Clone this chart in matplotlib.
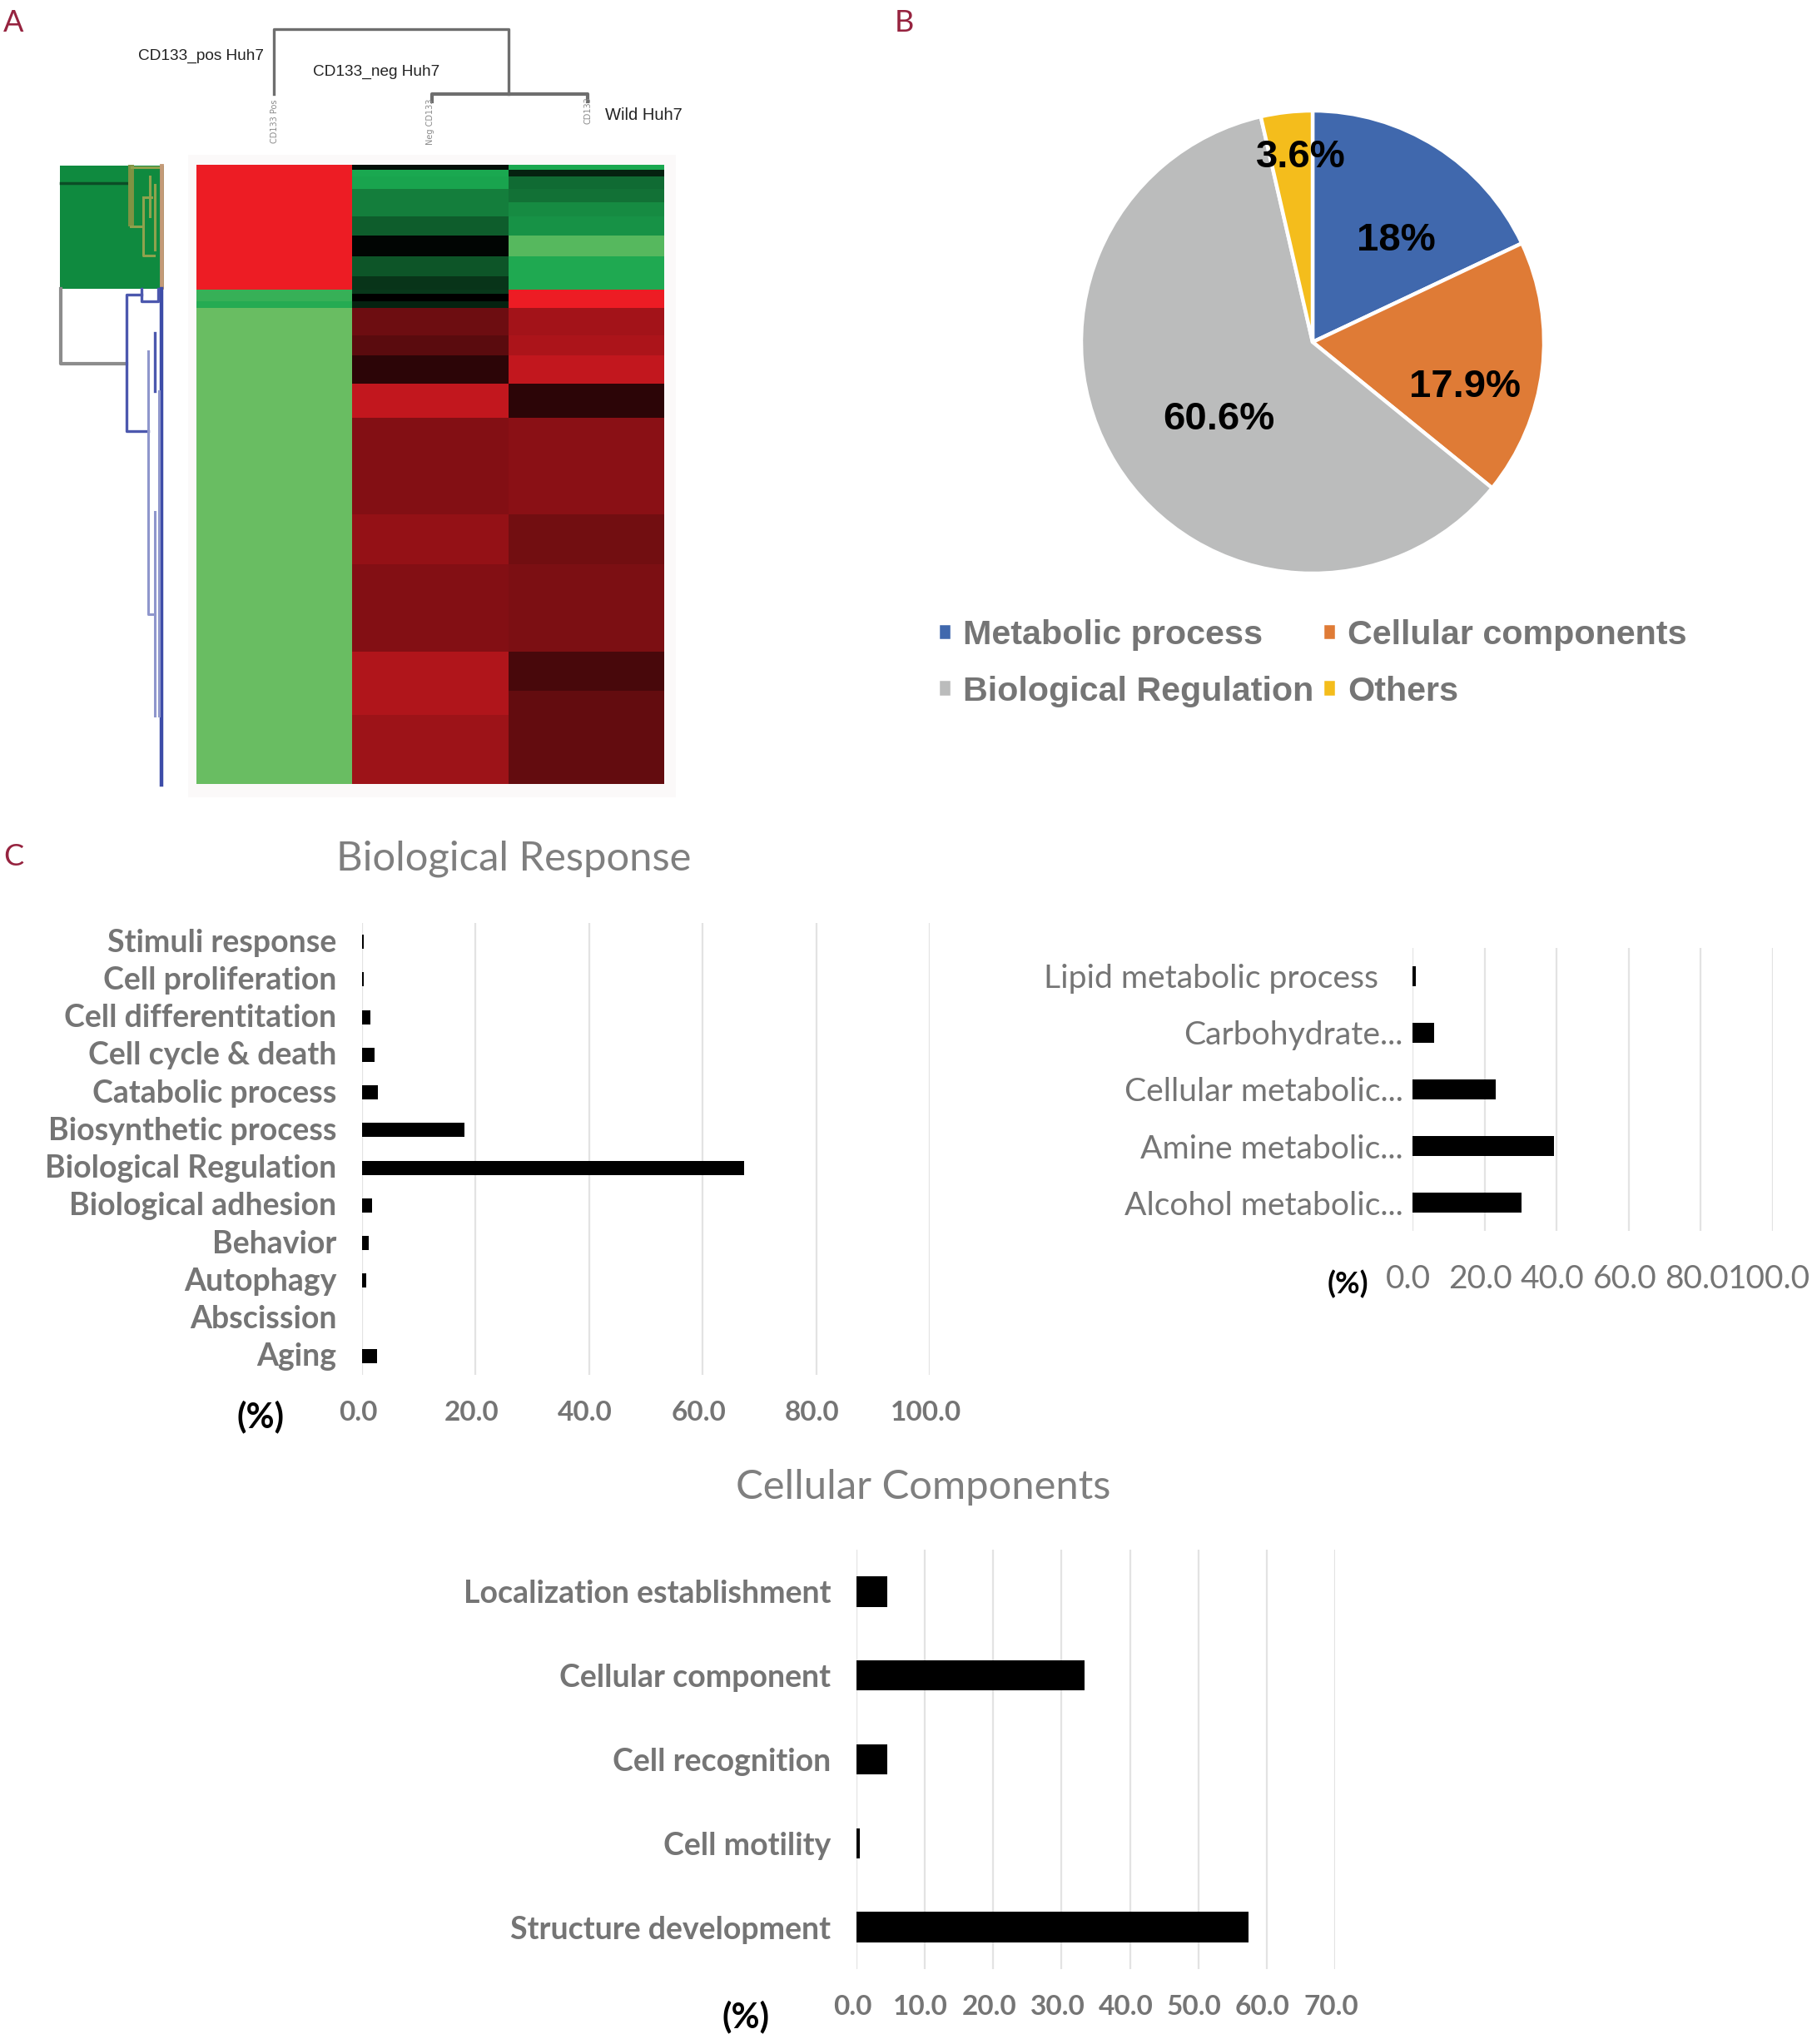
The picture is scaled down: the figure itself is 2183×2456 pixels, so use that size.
import matplotlib
matplotlib.use("Agg")
import matplotlib.pyplot as plt
from matplotlib.colors import LinearSegmentedColormap
from matplotlib.patches import Rectangle
from matplotlib.transforms import ScaledTranslation
import numpy as np

W, H = 2183, 2456

# panel A, heat map rows (edges) and log-ratio like values
row_edges = [198, 204, 212, 227, 243, 260, 283, 308, 332, 348, 353, 362, 370,
             403, 427, 461, 502, 618, 678, 783, 830, 859, 942]
col_pos = [1.00] * 9 + [-0.75, -0.75, -0.65] + [-1.0] * 10
col_neg = [-0.05, -0.60, -0.58, -0.45, -0.45, -0.33, -0.02, -0.30, -0.18, -0.20, 0.00, -0.12,
           0.46, 0.38, 0.18, 0.82, 0.55, 0.62, 0.55, 0.74, 0.74, 0.66]
col_wild = [-0.60, -0.12, -0.38, -0.40, -0.50, -0.52, -0.90, -0.62, -0.62, 1.00, 1.00, 1.00,
            0.68, 0.72, 0.82, 0.18, 0.58, 0.48, 0.52, 0.30, 0.42, 0.42]

# panel B
pie_labels = ["Metabolic process", "Cellular components", "Biological Regulation", "Others"]
pie_values = [18, 17.9, 60.6, 3.6]
pie_text = ["18%", "17.9%", "60.6%", "3.6%"]
pie_colors = ["#4068ad", "#df7b36", "#bbbcbc", "#f4bd1c"]

# panel C
bio_names = ["Stimuli response", "Cell proliferation", "Cell differentitation", "Cell cycle & death",
             "Catabolic process", "Biosynthetic process", "Biological Regulation", "Biological adhesion",
             "Behavior", "Autophagy", "Abscission", "Aging"]
bio_values = [0.25, 0.25, 1.5, 2.2, 2.8, 18.1, 67.3, 1.7, 1.1, 0.7, 0.0, 2.6]
met_names = ["Lipid metabolic process", "Carbohydrate...", "Cellular metabolic...",
             "Amine metabolic...", "Alcohol metabolic..."]
met_values = [1.0, 6.0, 23.0, 39.2, 30.3]
cel_names = ["Localization establishment", "Cellular component", "Cell recognition",
             "Cell motility", "Structure development"]
cel_values = [4.5, 33.3, 4.5, 0.5, 57.3]

GREY = "#757575"
LETTER = "#96233f"
SANS = "Liberation Sans"
LATO = "Lato"

fig = plt.figure(figsize=(W / 100, H / 100), dpi=100)


def box(x0, y0, x1, y1):
    return fig.add_axes([x0 / W, 1 - y1 / H, (x1 - x0) / W, (y1 - y0) / H])


# overlay in pixel coords for the dendrograms and loose labels
over = fig.add_axes([0, 0, 1, 1], zorder=5)
over.set_xlim(0, W)
over.set_ylim(H, 0)
over.axis("off")
over.patch.set_alpha(0)


def lines(segs, color, lw):
    for xs, ys in segs:
        over.plot(xs, ys, color=color, lw=lw, solid_capstyle="projecting")


for txt, x, y in [("A", 16, 27), ("B", 1086, 27), ("C", 16, 1029)]:
    over.text(x, y, txt, color=LETTER, family=LATO, fontsize=26, ha="center", va="center")

# faint halo the screenshot leaves round the heat map
fig.add_artist(Rectangle((226 / W, 1 - 958 / H), 586 / W, 772 / H, transform=fig.transFigure,
                         facecolor="#fbf9f9", edgecolor="none", zorder=-1))

# heat map
gbr = LinearSegmentedColormap.from_list(
    "gbr", [(0, "#69bd62"), (0.2, "#1aa850"), (0.5, "#000000"), (1, "#ed1c24")])
ax = box(236, 198, 798, 942)
ax.pcolormesh([0, 1, 2, 3], row_edges, np.array([col_pos, col_neg, col_wild]).T,
              cmap=gbr, vmin=-1, vmax=1)
ax.set_ylim(942, 198)
ax.axis("off")

# top dendrogram
lines([([329, 329, 611, 611], [113, 35, 35, 113])], "#6e6e6e", 2.4)
lines([([519, 519, 706, 706], [122, 113, 113, 122])], "#6e6e6e", 3)
over.text(330, 146, "CD133 Pos", rotation=90, color="#8a8a8a", fontsize=7, ha="center", va="center")
over.text(517, 146, "Neg CD133", rotation=90, color="#8a8a8a", fontsize=7, ha="center", va="center")
over.text(706, 133, "CD133", rotation=90, color="#8a8a8a", fontsize=7, ha="center", va="center")
over.text(242, 67, "CD133_pos Huh7", color="#222222", family=SANS, fontsize=13.7, ha="center", va="center")
over.text(452, 86, "CD133_neg Huh7", color="#222222", family=SANS, fontsize=13.7, ha="center", va="center")
over.text(773, 138, "Wild Huh7", color="#222222", family=SANS, fontsize=14.5, ha="center", va="center")

# left dendrogram, green block and its branches
over.fill([72, 197, 197, 190, 72], [199, 199, 347, 347, 347], color="#0f8a3f", lw=0)
lines([([73, 152], [220, 220])], "#0b4d26", 2.5)
lines([([73, 73, 152], [347, 437, 437])], "#8c8c8c", 3)
lines([([157, 157], [201, 268])], "#7f9343", 5)
olive = [([157, 170], [272, 272]), ([172, 172, 185], [237, 307, 307]), ([172, 182], [237, 237]),
         ([180, 180], [212, 260]), ([186, 186], [222, 300]), ([158, 192], [201, 201])]
lines(olive, "#8fa24d", 2.2)
lines([([194, 194], [199, 345])], "#c49a78", 3.5)
lines([([194, 194], [347, 943])], "#3d4ca8", 3.2)
lines([([170, 152, 152, 178], [354, 354, 518, 518]), ([170, 170, 190, 190], [347, 362, 362, 347]),
       ([186, 186], [400, 470])], "#4c58ae", 2.4)
lines([([178, 178, 186], [422, 738, 738]), ([186, 186], [615, 860]), ([191, 191], [470, 860])],
      "#8f96cc", 2.2)

# pie
cx, cy, r = 1577, 411, 278
ax = box(cx - r, cy - r, cx + r, cy + r)
wedges, _ = ax.pie(pie_values, colors=pie_colors, startangle=90, counterclock=False, radius=1,
                   wedgeprops={"edgecolor": "white", "linewidth": 3.2})
ax.set_xlim(-1, 1)
ax.set_ylim(-1, 1)
for txt, x, y in zip(pie_text, [1677, 1760, 1464, 1563], [289, 465, 504, 189]):
    over.text(x, y, txt, color="black", family=SANS, weight="bold", fontsize=34, ha="center", va="center")
order = [0, 2, 1, 3]
fig.legend([wedges[i] for i in order], [pie_labels[i] for i in order], ncol=2, frameon=False,
           loc="upper left", bbox_to_anchor=(1127 / W, 1 - 744 / H),
           prop={"family": SANS, "weight": "bold", "size": 29.7}, labelcolor=GREY,
           handlelength=0.42, handleheight=0.42, handletextpad=0.3, columnspacing=0.27,
           labelspacing=0.72, borderpad=0, borderaxespad=0)


def bars(rect, names, values, xmax, step, tick_size, label_size, weight, pad, bar_h, xpad):
    ax = box(*rect)
    y = np.arange(len(names))
    ax.barh(y, values, height=bar_h, color="black", zorder=3)
    ax.set_yticks(y, names, family=LATO, weight=weight, color=GREY, fontsize=label_size)
    ticks = np.arange(0, xmax + step, step)
    ax.set_xticks(ticks, [f"{t:.1f}" for t in ticks], family=LATO, weight=weight, color=GREY,
                  fontsize=tick_size)
    ax.set_xlim(0, xmax)
    ax.set_ylim(len(names) - 0.5, -0.5)
    ax.tick_params(axis="y", length=0, pad=pad)
    ax.tick_params(axis="x", length=0, pad=xpad)
    ax.grid(axis="x", color="#e3e3e3", lw=1.6)
    ax.set_axisbelow(True)
    for s in ax.spines.values():
        s.set_visible(False)
    ax.patch.set_alpha(0)
    for lab in ax.get_xticklabels():
        lab.set_transform(lab.get_transform() + ScaledTranslation(-0.05, 0, fig.dpi_scale_trans))
    return ax


ax = bars((435, 1109, 1117, 1652), bio_names, bio_values, 100, 20, 24, 27, "bold", 22, 0.38, 22)
for lab in ax.get_yticklabels():
    lab.set_transform(lab.get_transform() + ScaledTranslation(0, 0.02, fig.dpi_scale_trans))
ax = bars((1697, 1139, 2130, 1479), met_names, met_values, 100, 20, 28, 28.2, "normal", 8, 0.35, 29)
# the untruncated label sits further left in the source
lab = ax.get_yticklabels()[0]
lab.set_transform(lab.get_transform() + ScaledTranslation(-0.30, 0, fig.dpi_scale_trans))
bars((1029, 1862, 1604, 2366), cel_names, cel_values, 70, 10, 24, 27, "bold", 22, 0.36, 22)

for x, y, size in [(313, 1702, 30), (1619, 1543, 26), (896, 2423, 30)]:
    over.text(x, y, "(%)", color="black", family=LATO, weight="bold", fontsize=size, ha="center", va="center")
over.text(617, 1032, "Biological Response", color="#7f7f7f", family=LATO, fontsize=35.3, ha="center", va="center")
over.text(1109, 1787, "Cellular Components", color="#7f7f7f", family=LATO, fontsize=35.3, ha="center", va="center")

fig.savefig("out.png", dpi=100)
